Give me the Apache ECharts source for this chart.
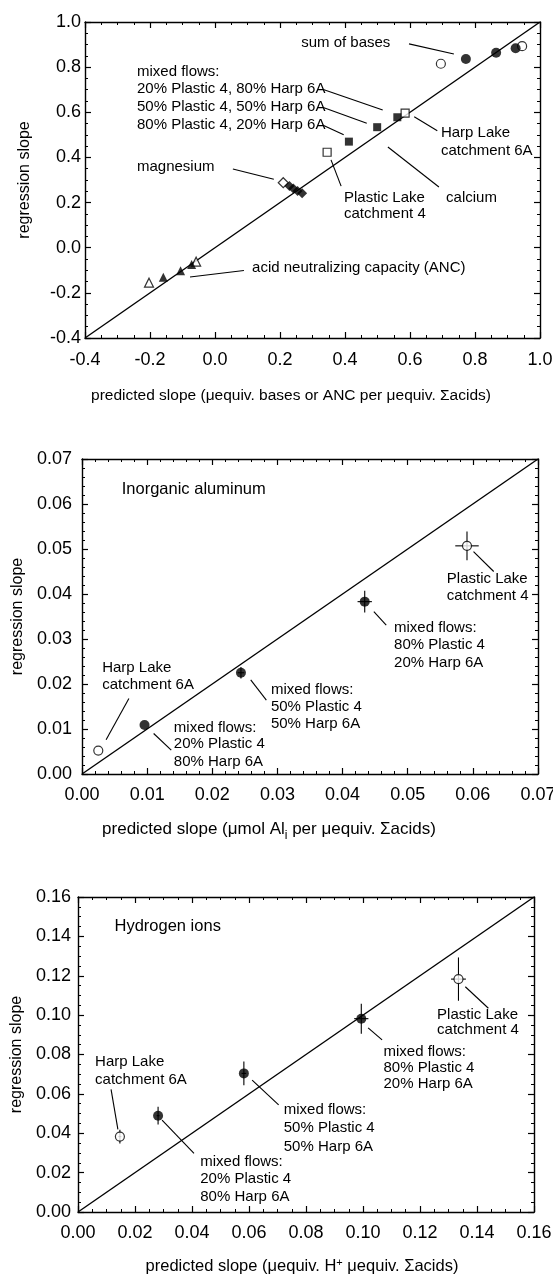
<!DOCTYPE html>
<html>
<head>
<meta charset="utf-8">
<script src="https://cdn.jsdelivr.net/npm/echarts@6/dist/echarts.min.js"></script>
<style>
  html, body { margin: 0; padding: 0; background: #fff; }
  #chart { width: 553px; height: 1278px; }
</style>
</head>
<body>
<div id="chart"></div>
<script>
// ---- data: [predicted slope, regression slope] ----
// panel 1, base cations and ANC
const sumBasesOpen = [[0.695, 0.815], [0.945, 0.893]];
const sumBasesFilled = [[0.772, 0.836], [0.865, 0.864], [0.925, 0.884]];
const calciumOpen = [[0.345, 0.423], [0.585, 0.596]];
const calciumFilled = [[0.412, 0.47], [0.499, 0.534], [0.561, 0.578]];
const magnesiumOpen = [[0.21, 0.288]];
const magnesiumFilled = [[0.229, 0.273], [0.241, 0.262], [0.254, 0.251], [0.268, 0.241]];
const ancOpen = [[-0.203, -0.155], [-0.058, -0.062]];
const ancFilled = [[-0.159, -0.131], [-0.106, -0.102], [-0.072, -0.074]];

// panel 2, inorganic aluminum: [x, y, x error, y error]
const alOpen = [[0.0591, 0.0507, 0.0018, 0.0032], [0.0025, 0.0052, 0, 0]];
const alFilled = [[0.0434, 0.0383, 0.0011, 0.0024], [0.0244, 0.0225, 0.0005, 0.0013], [0.0096, 0.0109, 0, 0]];

// panel 3, hydrogen ions: [x, y, x error, y error]
const hOpen = [[0.1335, 0.1183, 0.0026, 0.011], [0.0147, 0.0383, 0.0005, 0.0035]];
const hFilled = [[0.0994, 0.0982, 0.0025, 0.0076], [0.0582, 0.0704, 0.0008, 0.006], [0.0281, 0.0489, 0.0005, 0.0045]];

// tick values
const p1Ticks = [-0.4, -0.2, 0, 0.2, 0.4, 0.6, 0.8, 1.0];
const p2Ticks = [0, 0.01, 0.02, 0.03, 0.04, 0.05, 0.06, 0.07];
const p3Ticks = [0, 0.02, 0.04, 0.06, 0.08, 0.10, 0.12, 0.14, 0.16];

// annotations: [text, x, y] in data units, leader lines [x1, y1, x2, y2]
const p1Notes = [
  ['sum of bases', 0.265, 0.907],
  ['mixed flows:', -0.24, 0.78],
  ['20% Plastic 4, 80% Harp 6A', -0.24, 0.702],
  ['50% Plastic 4, 50% Harp 6A', -0.24, 0.622],
  ['80% Plastic 4, 20% Harp 6A', -0.24, 0.544],
  ['Harp Lake', 0.695, 0.507],
  ['catchment 6A', 0.695, 0.43],
  ['magnesium', -0.24, 0.359],
  ['Plastic Lake', 0.397, 0.223],
  ['catchment 4', 0.397, 0.152],
  ['calcium', 0.711, 0.219],
  ['acid neutralizing capacity (ANC)', 0.114, -0.091]
];
const p1Leaders = [
  [0.597, 0.903, 0.735, 0.858],
  [0.331, 0.702, 0.516, 0.61],
  [0.331, 0.622, 0.467, 0.551],
  [0.331, 0.544, 0.396, 0.5],
  [0.613, 0.58, 0.684, 0.518],
  [0.055, 0.349, 0.181, 0.303],
  [0.357, 0.389, 0.388, 0.273],
  [0.532, 0.446, 0.689, 0.269],
  [-0.077, -0.13, 0.089, -0.101]
];
const p2Notes = [
  ['Plastic Lake', 0.056, 0.0433],
  ['catchment 4', 0.056, 0.0396],
  ['mixed flows:', 0.0479, 0.0324],
  ['80% Plastic 4', 0.0479, 0.0287],
  ['20% Harp 6A', 0.0479, 0.0247],
  ['Harp Lake', 0.0031, 0.0236],
  ['catchment 6A', 0.0031, 0.0198],
  ['mixed flows:', 0.029, 0.0187],
  ['50% Plastic 4', 0.029, 0.015],
  ['50% Harp 6A', 0.029, 0.0111],
  ['mixed flows:', 0.0141, 0.0102],
  ['20% Plastic 4', 0.0141, 0.0066],
  ['80% Harp 6A', 0.0141, 0.0027]
];
const p2Leaders = [
  [0.0601, 0.0494, 0.0632, 0.045],
  [0.0448, 0.0361, 0.0467, 0.0331],
  [0.0072, 0.0168, 0.0037, 0.0076],
  [0.0259, 0.0209, 0.0283, 0.0164],
  [0.011, 0.009, 0.0137, 0.0053]
];
const p3Notes = [
  ['Plastic Lake', 0.126, 0.1001],
  ['catchment 4', 0.126, 0.0924],
  ['mixed flows:', 0.1072, 0.0814],
  ['80% Plastic 4', 0.1072, 0.073],
  ['20% Harp 6A', 0.1072, 0.0649],
  ['Harp Lake', 0.006, 0.0763],
  ['catchment 6A', 0.006, 0.067],
  ['mixed flows:', 0.0722, 0.0518],
  ['50% Plastic 4', 0.0722, 0.0425],
  ['50% Harp 6A', 0.0722, 0.0332],
  ['mixed flows:', 0.0429, 0.0255],
  ['20% Plastic 4', 0.0429, 0.0166],
  ['80% Harp 6A', 0.0429, 0.0078]
];
const p3Leaders = [
  [0.1359, 0.1144, 0.144, 0.1035],
  [0.1018, 0.0935, 0.1067, 0.0874],
  [0.0116, 0.0623, 0.014, 0.042],
  [0.0611, 0.067, 0.0704, 0.0544],
  [0.0295, 0.0467, 0.0407, 0.0298]
];
// panel titles: [text, x, y]
const p2Title = [['Inorganic aluminum', 0.0061, 0.0633]];
const p3Title = [['Hydrogen ions', 0.0128, 0.1449]];

const FONT = '"Liberation Sans", Arial, Helvetica, sans-serif';

function valueAxis(grid, ticks, minorSplit, position, extra) {
  return Object.assign({
    type: 'value',
    gridIndex: grid,
    position: position,
    min: ticks[0],
    max: ticks[ticks.length - 1],
    interval: ticks[1] - ticks[0],
    axisLine: { show: true, onZero: false, lineStyle: { color: '#000', width: 1.4 } },
    axisTick: { show: true, inside: true, length: 6, lineStyle: { color: '#000', width: 1.2 } },
    minorTick: { show: true, splitNumber: minorSplit, length: 3, lineStyle: { color: '#000', width: 1 } },
    splitLine: { show: false },
    axisLabel: { show: false }
  }, extra);
}

function tickLabels(digits, margin, size) {
  return {
    show: true, margin: margin, fontSize: size, color: '#000', fontFamily: FONT,
    showMinLabel: true, showMaxLabel: true,
    formatter: v => v.toFixed(digits)
  };
}

function nameStyle(size, extra) {
  return Object.assign({ fontSize: size, color: '#000', fontFamily: FONT }, extra);
}

function scatter(i, data, symbol, size, filled) {
  return {
    type: 'scatter', xAxisIndex: i, yAxisIndex: i, data: data,
    encode: { x: 0, y: 1 },
    symbol: symbol, symbolSize: size, silent: true, z: 5,
    itemStyle: filled ? { color: '#000' } : { color: '#fff', borderColor: '#000', borderWidth: 1.2 }
  };
}

function oneToOne(i, ticks) {
  const lo = ticks[0], hi = ticks[ticks.length - 1];
  return {
    type: 'line', xAxisIndex: i, yAxisIndex: i, data: [[lo, lo], [hi, hi]],
    symbol: 'none', silent: true, z: 2,
    lineStyle: { color: '#000', width: 1.4 }
  };
}

function leaders(i, data) {
  return {
    type: 'custom', xAxisIndex: i, yAxisIndex: i, data: data, silent: true, z: 3,
    encode: { x: [0, 2], y: [1, 3] },
    renderItem: (params, api) => {
      const a = api.coord([api.value(0), api.value(1)]);
      const b = api.coord([api.value(2), api.value(3)]);
      return { type: 'line', shape: { x1: a[0], y1: a[1], x2: b[0], y2: b[1] },
        style: { stroke: '#000', lineWidth: 1.1 } };
    }
  };
}

function errorBars(i, data) {
  return {
    type: 'custom', xAxisIndex: i, yAxisIndex: i, data: data, silent: true, z: 4,
    encode: { x: 0, y: 1 },
    renderItem: (params, api) => {
      const x = api.value(0), y = api.value(1), ex = api.value(2), ey = api.value(3);
      const a = api.coord([x - ex, y]), b = api.coord([x + ex, y]);
      const c = api.coord([x, y - ey]), d = api.coord([x, y + ey]);
      const st = { stroke: '#000', lineWidth: 1.1 };
      return { type: 'group', children: [
        { type: 'line', shape: { x1: a[0], y1: a[1], x2: b[0], y2: b[1] }, style: st },
        { type: 'line', shape: { x1: c[0], y1: c[1], x2: d[0], y2: d[1] }, style: st }
      ] };
    }
  };
}

function notes(i, list, size) {
  return {
    type: 'custom', xAxisIndex: i, yAxisIndex: i, silent: true, z: 6,
    data: list.map(n => [n[1], n[2]]),
    encode: { x: 0, y: 1 },
    renderItem: (params, api) => {
      const p = api.coord([api.value(0), api.value(1)]);
      return { type: 'text', x: p[0], y: p[1],
        style: { text: list[params.dataIndex][0], fill: '#000', fontSize: size,
          fontFamily: FONT, align: 'left', verticalAlign: 'middle' } };
    }
  };
}

const chart = echarts.init(document.getElementById('chart'));

const option = {
  backgroundColor: '#fff',
  animation: false,
  grid: [
    { left: 85, top: 22, width: 455, height: 316, outerBoundsMode: 'none', containLabel: false },
    { left: 82, top: 459, width: 456, height: 315, outerBoundsMode: 'none', containLabel: false },
    { left: 78, top: 897, width: 456, height: 315, outerBoundsMode: 'none', containLabel: false }
  ],
  xAxis: [
    valueAxis(0, p1Ticks, 4, 'bottom', {
      axisLabel: tickLabels(1, 13, 18),
      name: 'predicted slope (μequiv. bases or ANC per μequiv. Σacids)',
      nameLocation: 'middle', nameGap: 50,
      nameTextStyle: nameStyle(15.5, { padding: [0, 43, 0, 0] })
    }),
    valueAxis(1, p2Ticks, 5, 'bottom', {
      axisLabel: tickLabels(2, 12, 18),
      name: 'predicted slope (μmol Al{sub|i} per μequiv. Σacids)',
      nameLocation: 'middle', nameGap: 43,
      nameTextStyle: nameStyle(17, { padding: [0, 82, 0, 0],
        rich: { sub: { fontSize: 12, fontFamily: FONT, color: '#000', padding: [13, 0, 0, 0] } } })
    }),
    valueAxis(2, p3Ticks, 4, 'bottom', {
      axisLabel: tickLabels(2, 12, 18),
      name: 'predicted slope (μequiv. H{sup|+} μequiv. Σacids)',
      nameLocation: 'middle', nameGap: 45,
      nameTextStyle: nameStyle(16.5, { padding: [0, 8, 0, 0],
        rich: { sup: { fontSize: 11, fontFamily: FONT, color: '#000', padding: [0, 0, 8, 0] } } })
    }),
    valueAxis(0, p1Ticks, 4, 'top'),
    valueAxis(1, p2Ticks, 5, 'top'),
    valueAxis(2, p3Ticks, 4, 'top')
  ],
  yAxis: [
    valueAxis(0, p1Ticks, 4, 'left', {
      axisLabel: tickLabels(1, 4, 18),
      name: 'regression slope', nameLocation: 'middle', nameGap: 52, nameTextStyle: nameStyle(16)
    }),
    valueAxis(1, p2Ticks, 5, 'left', {
      axisLabel: tickLabels(2, 10, 18),
      name: 'regression slope', nameLocation: 'middle', nameGap: 54, nameTextStyle: nameStyle(16)
    }),
    valueAxis(2, p3Ticks, 4, 'left', {
      axisLabel: tickLabels(2, 7, 18),
      name: 'regression slope', nameLocation: 'middle', nameGap: 51, nameTextStyle: nameStyle(16)
    }),
    valueAxis(0, p1Ticks, 4, 'right'),
    valueAxis(1, p2Ticks, 5, 'right'),
    valueAxis(2, p3Ticks, 4, 'right')
  ],
  series: [
    oneToOne(0, p1Ticks),
    leaders(0, p1Leaders),
    scatter(0, sumBasesOpen, 'circle', 9, false),
    scatter(0, sumBasesFilled, 'circle', 10, true),
    scatter(0, calciumOpen, 'rect', 8, false),
    scatter(0, calciumFilled, 'rect', 8, true),
    scatter(0, magnesiumOpen, 'diamond', 10, false),
    scatter(0, magnesiumFilled, 'diamond', 10, true),
    scatter(0, ancOpen, 'triangle', 9, false),
    scatter(0, ancFilled, 'triangle', 9, true),
    notes(0, p1Notes, 15),

    oneToOne(1, p2Ticks),
    leaders(1, p2Leaders),
    errorBars(1, alOpen.concat(alFilled)),
    scatter(1, alOpen, 'circle', 9, false),
    scatter(1, alFilled, 'circle', 10, true),
    notes(1, p2Notes, 15),
    notes(1, p2Title, 16.5),

    oneToOne(2, p3Ticks),
    leaders(2, p3Leaders),
    errorBars(2, hOpen.concat(hFilled)),
    scatter(2, hOpen, 'circle', 9, false),
    scatter(2, hFilled, 'circle', 10, true),
    notes(2, p3Notes, 15),
    notes(2, p3Title, 16.5)
  ]
};

chart.setOption(option);
</script>
</body>
</html>
